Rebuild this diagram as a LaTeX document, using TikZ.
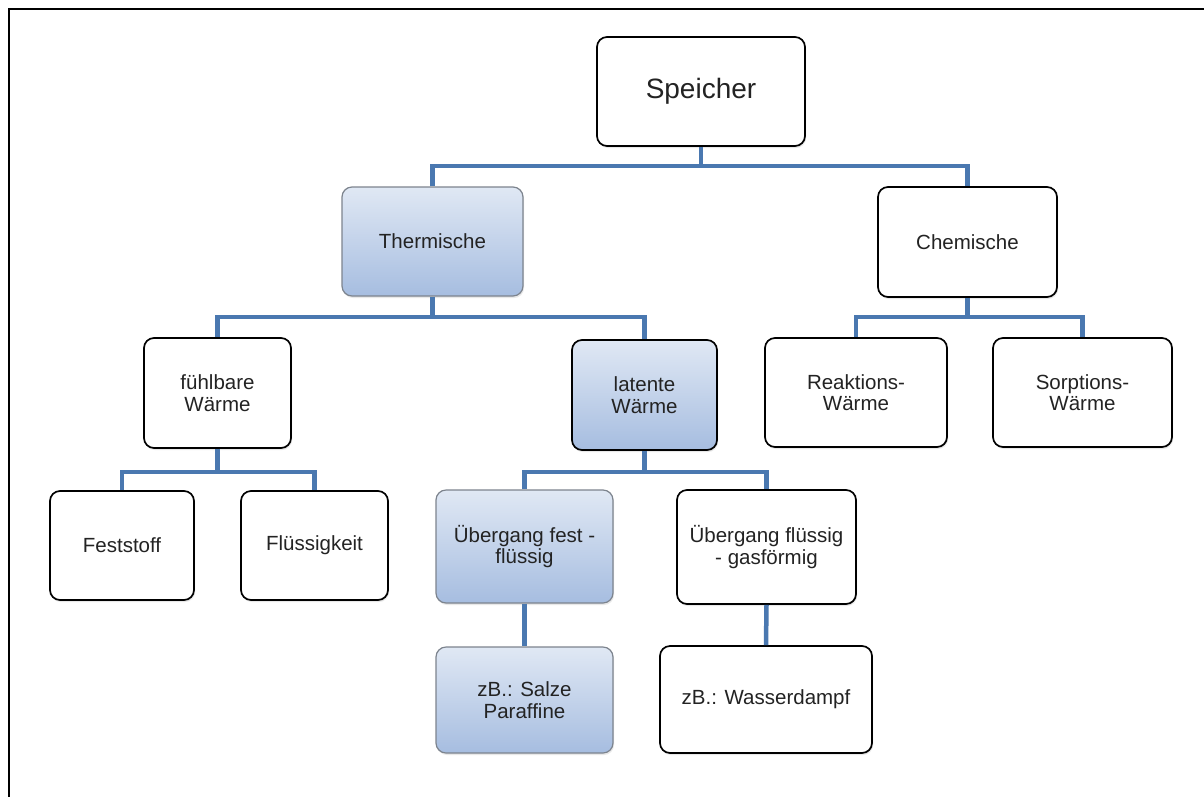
\documentclass[tikz,border=0pt]{standalone}
\usepackage{fontspec}
\setmainfont{Liberation Sans}
\usetikzlibrary{shadows}
\definecolor{conncol}{RGB}{74,120,176}
\definecolor{ltop}{RGB}{224,232,244}
\definecolor{lbot}{RGB}{166,189,224}
\definecolor{gborder}{RGB}{125,132,142}
\definecolor{txt}{RGB}{35,35,35}
\tikzset{
  boxbase/.style={rounded corners=10pt, align=center, text=txt,
    font=\fontsize{20.5}{21.5}\selectfont, inner sep=2pt,
    drop shadow={opacity=0.18, shadow xshift=1pt, shadow yshift=-2pt}},
  wbox/.style={boxbase, draw=black, line width=1.7pt, fill=white},
  bbox/.style={boxbase, draw=gborder, line width=1.2pt, top color=ltop, bottom color=lbot},
  bboxdark/.style={boxbase, draw=black, line width=1.7pt, top color=ltop, bottom color=lbot},
  conn/.style={draw=conncol, line width=4.5pt}
}
\begin{document}
\begin{tikzpicture}[x=1pt,y=-1pt]
\useasboundingbox (0,0) rectangle (1204,796);
\fill[white] (0,0) rectangle (1204,796);
\draw[line width=2.6pt, black] (9,800) -- (9,9) -- (1210,9);

% bus levels
\coordinate (b1) at (0,166);
\coordinate (b2) at (0,317);
\coordinate (b3) at (0,472);

% nodes
\node[wbox, minimum width=208pt, minimum height=109pt] (speicher) at (701,91.5) {\fontsize{28}{30}\selectfont Speicher};
\node[bbox, minimum width=181pt, minimum height=109pt] (therm) at (432.5,241.5) {Thermische};
\node[wbox, minimum width=179pt, minimum height=110pt] (chem) at (967.5,242) {Chemische};
\node[wbox, minimum width=147pt, minimum height=110pt] (fuehl) at (217.5,393) {fühlbare\\Wärme};
\node[bboxdark, minimum width=145pt, minimum height=110pt] (latent) at (644.5,395) {latente\\Wärme};
\node[wbox, minimum width=182pt, minimum height=109pt] (reak) at (856,392.5) {Reaktions-\\Wärme};
\node[wbox, minimum width=179pt, minimum height=109pt] (sorp) at (1082.5,392.5) {Sorptions-\\Wärme};
\node[wbox, minimum width=144pt, minimum height=109pt] (fest) at (122,545.5) {Feststoff};
\node[wbox, minimum width=147pt, minimum height=109pt] (fluess) at (314.5,545.5) {Flüssigkeit};
\node[bbox, minimum width=177pt, minimum height=113pt] (uefest) at (524.5,546.5) {Übergang fest -\\flüssig};
\node[wbox, minimum width=179pt, minimum height=114pt] (uegas) at (766.5,547) {Übergang flüssig\\- gasförmig};
\node[bbox, minimum width=177pt, minimum height=106pt] (salze) at (524.5,700) {zB.: Salze\\Paraffine};
\node[wbox, minimum width=212pt, minimum height=107pt] (wasser) at (766,699.5) {zB.: Wasserdampf};

% connectors
\draw[conn] (speicher.south) -- (speicher.south |- b1);
\draw[conn] (therm.north) -- (therm.north |- b1) -- (chem.north |- b1) -- (chem.north);
\draw[conn] (therm.south) -- (therm.south |- b2);
\draw[conn] (fuehl.north) -- (fuehl.north |- b2) -- (latent.north |- b2) -- (latent.north);
\draw[conn] (chem.south) -- (chem.south |- b2);
\draw[conn] (reak.north) -- (reak.north |- b2) -- (sorp.north |- b2) -- (sorp.north);
\draw[conn] (fuehl.south) -- (fuehl.south |- b3);
\draw[conn] (fest.north) -- (fest.north |- b3) -- (fluess.north |- b3) -- (fluess.north);
\draw[conn] (latent.south) -- (latent.south |- b3);
\draw[conn] (uefest.north) -- (uefest.north |- b3) -- (uegas.north |- b3) -- (uegas.north);
\draw[conn] (uefest.south) -- (salze.north);
\draw[conn] (uegas.south) -- (wasser.north);
\end{tikzpicture}
\end{document}
